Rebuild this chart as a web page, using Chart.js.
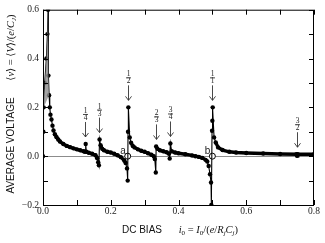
<!DOCTYPE html>
<html>
<head>
<meta charset="utf-8">
<script src="https://cdn.jsdelivr.net/npm/chart.js"></script>
<style>
html, body { margin: 0; padding: 0; background: #fff; }
#wrap { width: 325px; height: 243px; }
</style>
</head>
<body>
<div id="wrap"><canvas id="chart"></canvas></div>
<script>
const biasX = [0, 0.001, 0.002, 0.005, 0.01, 0.013, 0.015, 0.016, 0.018, 0.02, 0.022,
  0.025, 0.028, 0.031, 0.035, 0.04, 0.045, 0.05, 0.06, 0.07, 0.08, 0.09, 0.1, 0.11, 0.12, 0.124,
  0.126, 0.128, 0.135, 0.145, 0.155, 0.16, 0.163, 0.165,
  0.167, 0.17, 0.175, 0.18, 0.19, 0.2, 0.21, 0.22, 0.23, 0.24, 0.244, 0.248, 0.25,
  0.251, 0.252, 0.256, 0.26, 0.265, 0.27, 0.28, 0.29, 0.3, 0.31, 0.32, 0.327, 0.33, 0.333,
  0.334, 0.338, 0.345, 0.355, 0.365, 0.372, 0.374, 0.376, 0.38, 0.39, 0.4, 0.42, 0.44, 0.45,
  0.46, 0.47, 0.48, 0.485, 0.489, 0.493, 0.496, 0.497,
  0.499, 0.5, 0.501, 0.505, 0.51, 0.517, 0.53, 0.55, 0.57, 0.6, 0.65, 0.7, 0.748, 0.75, 0.752, 0.8];
const voltY = [0, 0.1, 0.2, 0.3, 0.4, 0.5, 0.6, 0.33, 0.25, 0.2, 0.17,
  0.15, 0.125, 0.105, 0.09, 0.078, 0.068, 0.06, 0.05, 0.042, 0.037, 0.032, 0.028, 0.024, 0.02, 0.018,
  0.05, 0.018, 0.014, 0.01, 0.004, -0.008, -0.025, -0.037,
  0.068, 0.045, 0.03, 0.024, 0.018, 0.015, 0.01, 0.004, -0.004, -0.018, -0.028, -0.05, -0.1,
  0.1, 0.2, 0.077, 0.055, 0.042, 0.036, 0.028, 0.022, 0.018, 0.012, 0.006, 0.0, -0.012, -0.067,
  0.04, 0.03, 0.024, 0.02, 0.016, 0.01, -0.01, 0.052, 0.02, 0.015, 0.012, 0.008, 0.003, 0.0,
  -0.003, -0.007, -0.015, -0.022, -0.04, -0.074, -0.108, -0.2,
  0.104, 0.145, 0.2, 0.077, 0.056, 0.036, 0.025, 0.018, 0.015, 0.013, 0.011, 0.009, 0.008, 0.002, 0.008, 0.008];

// open circles a, b
const openX = [0.25, 0.5];
const openY = [0, 0];
const openNames = ['a', 'b'];

// step markers (fraction -> bias = fraction / 2)
const markNum = ['1', '1', '1', '2', '3', '1', '3'];
const markDen = ['4', '3', '2', '3', '4', '1', '2'];
const markX = [0.125, 0.1667, 0.25, 0.3333, 0.375, 0.5, 0.75];
const markY = [0.05, 0.068, 0.2, 0.04, 0.052, 0.2, 0.008];

// the narrow loop near zero bias (indices into the curve)
const loopFrom = 2, loopTo = 9;

const serif = '"Liberation Serif", "DejaVu Serif", serif';
const sans = '"Liberation Sans", Arial, sans-serif';

function toXY(xs, ys) {
  return xs.map((x, i) => ({ x: x, y: ys[i] }));
}

function fmt(v) {
  const r = Math.round(v * 10);
  if (r % 2 !== 0) return '';
  const s = Math.abs(v).toFixed(1);
  return v < -1e-9 ? '\u2212' + s : s;
}

// draws a run of [text, font, dy] pieces, centred on 0
function drawRun(ctx, parts) {
  let w = 0;
  parts.forEach(p => { ctx.font = p[1]; w += ctx.measureText(p[0]).width; });
  let x = -w / 2;
  parts.forEach(p => {
    ctx.font = p[1];
    ctx.fillText(p[0], x, p[2] || 0);
    x += ctx.measureText(p[0]).width;
  });
}

const decor = {
  id: 'decor',
  afterDatasetsDraw(chart) {
    const ctx = chart.ctx;
    const a = chart.chartArea;
    const xs = chart.scales.x, ys = chart.scales.y;
    ctx.save();
    ctx.strokeStyle = '#000';
    ctx.lineWidth = 1;
    ctx.strokeRect(a.left + 0.5, a.top + 0.5, a.right - a.left - 1, a.bottom - a.top);

    // inward ticks on all four sides
    const tl = 5;
    ctx.beginPath();
    xs.ticks.forEach(t => {
      const px = Math.round(xs.getPixelForValue(t.value)) + 0.5;
      ctx.moveTo(px, a.bottom); ctx.lineTo(px, a.bottom - tl);
      ctx.moveTo(px, a.top); ctx.lineTo(px, a.top + tl);
    });
    ys.ticks.forEach(t => {
      const py = Math.round(ys.getPixelForValue(t.value)) + 0.5;
      ctx.moveTo(a.left, py); ctx.lineTo(a.left + tl, py);
      ctx.moveTo(a.right, py); ctx.lineTo(a.right - tl, py);
    });
    ctx.stroke();

    // arrows with fractions
    ctx.fillStyle = '#222';
    ctx.strokeStyle = '#333';
    ctx.lineWidth = 0.9;
    ctx.textAlign = 'center';
    ctx.textBaseline = 'alphabetic';
    markX.forEach((v, i) => {
      const px = Math.round(xs.getPixelForValue(v)) + 0.5;
      const tip = ys.getPixelForValue(markY[i]) - 7;
      const tail = tip - 15;
      ctx.beginPath();
      ctx.moveTo(px, tail); ctx.lineTo(px, tip);
      ctx.moveTo(px - 3, tip - 4); ctx.lineTo(px, tip); ctx.lineTo(px + 3, tip - 4);
      ctx.stroke();
      ctx.font = '7.5px ' + serif;
      ctx.fillText(markDen[i], px, tail - 2);
      ctx.fillText(markNum[i], px, tail - 9);
      ctx.beginPath();
      ctx.moveTo(px - 2.5, tail - 7.5); ctx.lineTo(px + 2.5, tail - 7.5);
      ctx.stroke();
    });

    // a, b labels
    ctx.font = '10px ' + sans;
    ctx.textAlign = 'right';
    ctx.fillStyle = '#222';
    openX.forEach((v, i) => {
      ctx.fillText(openNames[i], xs.getPixelForValue(v) - 2, ys.getPixelForValue(openY[i]) - 2);
    });

    // axis titles
    ctx.textAlign = 'left';
    ctx.fillStyle = '#111';
    const tf = '10px ' + sans;
    const mi = 'italic 10.5px ' + serif;
    const mn = '10.5px ' + serif;
    const sb = '7px ' + serif;
    const sbi = 'italic 7px ' + serif;
    ctx.save();
    ctx.translate(180, 233);
    drawRun(ctx, [['DC BIAS', tf], ['      ', tf], ['i', mi], ['0', sb, 2], [' = ', mn], ['I', mi], ['0', sb, 2],
      ['/(', mn], ['e', mi], ['/', mn], ['R', mi], ['j', sbi, 2], ['C', mi], ['j', sbi, 2], [')', mn]]);
    ctx.restore();
    ctx.save();
    ctx.translate(14, 104);
    ctx.rotate(-Math.PI / 2);
    drawRun(ctx, [['AVERAGE VOLTAGE', tf], ['      ', tf], ['\u27E8', mn], ['v', mi], ['\u27E9', mn], [' = ', mn],
      ['\u27E8', mn], ['V', mi], ['\u27E9', mn], ['/(', mn], ['e', mi], ['/', mn], ['C', mi], ['J', sbi, 2], [')', mn]]);
    ctx.restore();
    ctx.restore();
  }
};

const ctx = document.getElementById('chart').getContext('2d');
const chart = new Chart(ctx, {
  type: 'scatter',
  data: {
    datasets: [
      {
        label: 'loop',
        data: toXY(biasX.slice(loopFrom, loopTo), voltY.slice(loopFrom, loopTo)),
        showLine: true,
        fill: 'shape',
        backgroundColor: 'rgba(140,140,140,0.8)',
        borderWidth: 0,
        pointRadius: 0
      },
      {
        label: 'voltage',
        data: toXY(biasX, voltY),
        showLine: true,
        borderColor: '#000',
        backgroundColor: '#000',
        pointRadius: 2.2,
        pointBorderWidth: 0,
        segment: {
          borderWidth: c => {
            const dx = Math.abs(c.p1.x - c.p0.x), dy = Math.abs(c.p1.y - c.p0.y);
            return dy < 2.5 * dx ? 3.4 : 1.1;
          }
        }
      },
      {
        label: 'open',
        data: toXY(openX, openY),
        showLine: false,
        pointRadius: 3,
        pointBackgroundColor: '#fff',
        pointBorderColor: '#000',
        pointBorderWidth: 1
      }
    ]
  },
  options: {
    responsive: true,
    maintainAspectRatio: false,
    animation: false,
    layout: { padding: { top: 9, right: 11, left: 0, bottom: 0 } },
    plugins: { legend: { display: false }, tooltip: { enabled: false } },
    scales: {
      x: {
        type: 'linear',
        min: 0, max: 0.8,
        afterFit: s => { s.height = 38; },
        ticks: { stepSize: 0.1, callback: fmt, padding: 1, color: '#222', maxRotation: 0,
          autoSkip: false, font: { family: serif, size: 9.5 } },
        grid: { display: false, drawTicks: false },
        border: { display: false }
      },
      y: {
        type: 'linear',
        min: -0.2, max: 0.6,
        afterFit: s => { s.width = 43; },
        ticks: { stepSize: 0.1, callback: fmt, padding: 4, color: '#222', autoSkip: false,
          font: { family: serif, size: 9.5 } },
        grid: {
          drawTicks: false,
          color: c => (c.tick && Math.abs(c.tick.value) < 1e-9) ? '#8c8c8c' : 'rgba(0,0,0,0)'
        },
        border: { display: false }
      }
    }
  },
  plugins: [decor]
});
</script>
</body>
</html>
